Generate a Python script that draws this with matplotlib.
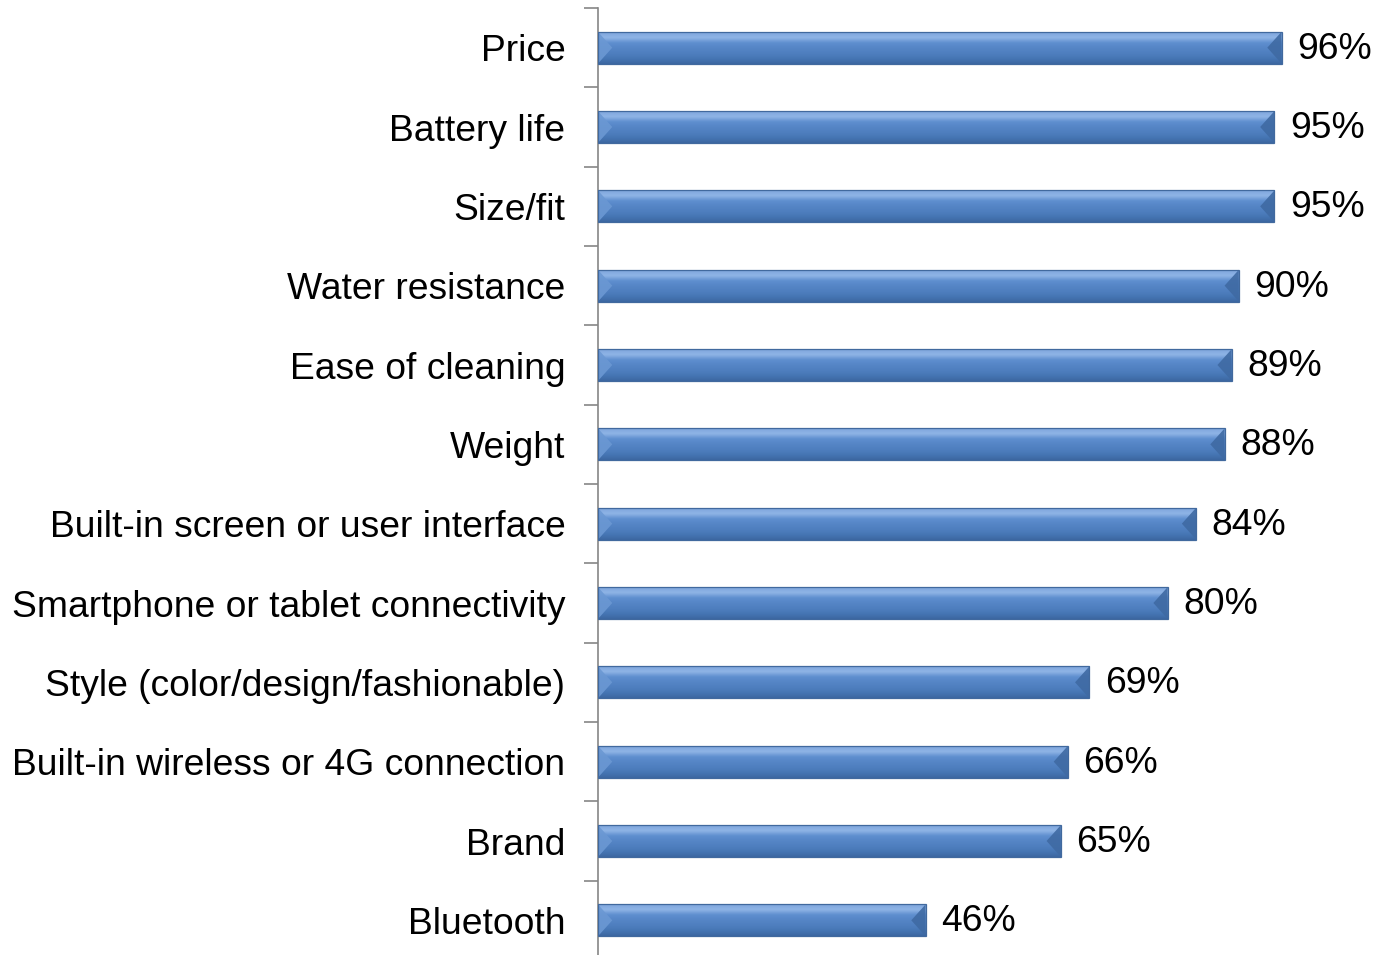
import numpy as np
import matplotlib
matplotlib.use('Agg')
import matplotlib.pyplot as plt
from matplotlib.patches import Polygon, Rectangle
from matplotlib.colors import LinearSegmentedColormap

plt.rcParams['font.family'] = ['Liberation Sans', 'DejaVu Sans']

# 주요 구매 고려 요소 (응답 비율 %)
features = ['Price', 'Battery life', 'Size/fit', 'Water resistance', 'Ease of cleaning',
            'Weight', 'Built-in screen or user interface', 'Smartphone or tablet connectivity',
            'Style (color/design/fashionable)', 'Built-in wireless or 4G connection',
            'Brand', 'Bluetooth']
shares = [96, 95, 95, 90, 89, 88, 84, 80, 69, 66, 65, 46]

n = len(features)
fig = plt.figure(figsize=(13.77, 9.55), dpi=100)
ax = fig.add_axes([598 / 1377, -5 / 955, 712 / 1377, 952 / 955])
ax.set_xlim(0, 100)
ax.set_ylim(n - 0.5, -0.5)

bar_h = 0.40
grad = LinearSegmentedColormap.from_list(
    'bev', ['#7ea6dc', '#8fb4e6', '#5f8fcf', '#5585c6', '#4f7fbf', '#4676b4', '#3c67a1'])
gimg = np.linspace(0, 1, 64).reshape(-1, 1)

for i, v in enumerate(shares):
    top, bot = i - bar_h / 2, i + bar_h / 2
    mid = i
    rect = Rectangle((0, top), v, bar_h, facecolor='none', edgecolor='none')
    ax.add_patch(rect)
    im = ax.imshow(gimg, cmap=grad, aspect='auto', extent=(0, v, bot, top),
                   interpolation='bilinear', zorder=2)
    im.set_clip_path(rect)
    # 좌우 베벨
    bx = 2.0
    ax.add_patch(Polygon([(0, top), (bx, mid), (0, bot)],
                         closed=True, facecolor='#6b98d3', edgecolor='none', alpha=0.9, zorder=3))
    ax.add_patch(Polygon([(v, top), (v - bx, mid), (v, bot)],
                         closed=True, facecolor='#3f6aa3', edgecolor='none', alpha=0.9, zorder=3))
    ax.add_patch(Rectangle((0, top), v, bar_h, facecolor='none', edgecolor='#41699e',
                           linewidth=0.9, zorder=4))
    ax.text(v + 2.2, i + 0.02, f'{v}%', va='center', ha='left', fontsize=26.8, color='black')

ax.set_yticks(np.arange(n))
ax.set_yticklabels(features, fontsize=26.8)
ax.set_yticks(np.arange(n + 1) - 0.5, minor=True)
ax.tick_params(axis='y', which='major', length=0, pad=23.5)
ax.tick_params(axis='y', which='minor', length=10, width=1.2, color='#868686')
ax.set_xticks([])
for s in ['top', 'right', 'bottom']:
    ax.spines[s].set_visible(False)
ax.spines['left'].set_color('#868686')
ax.spines['left'].set_linewidth(1.2)
ax.spines['left'].set_bounds(n - 0.5 + 0.1, -0.5)

fig.savefig('out.png', dpi=100)
